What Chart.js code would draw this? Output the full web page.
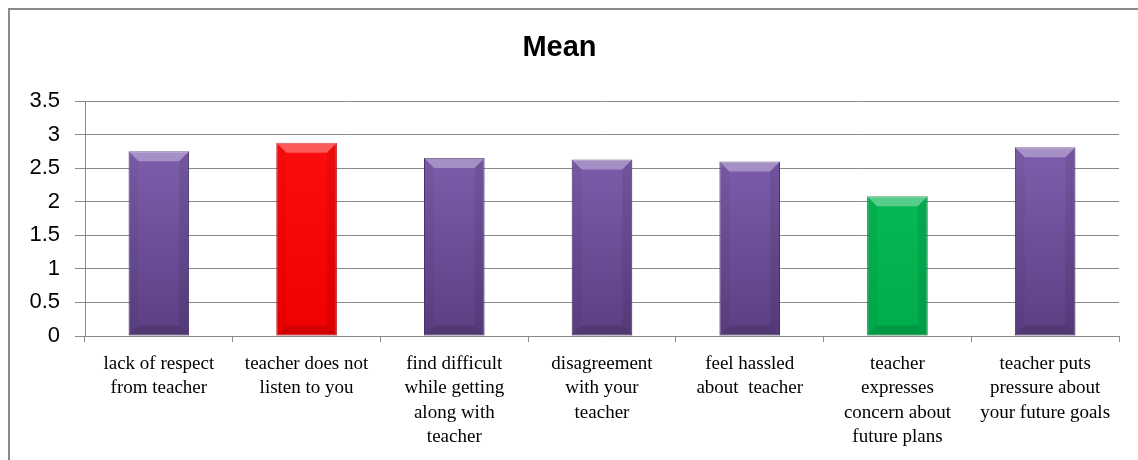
<!DOCTYPE html>
<html>
<head>
<meta charset="utf-8">
<script src="https://cdn.jsdelivr.net/npm/chart.js@4"></script>
<style>
html,body{margin:0;padding:0;background:#fff;}
#wrap{position:relative;width:1138px;height:460px;}
</style>
</head>
<body>
<div id="wrap"><canvas id="c" width="1138" height="460"></canvas></div>
<script>
// ---- data ----
const categories = [
  ["lack of respect", "from teacher"],
  ["teacher does not", "listen to you"],
  ["find difficult", "while getting", "along with", "teacher"],
  ["disagreement", "with your", "teacher"],
  ["feel hassled", "about  teacher"],
  ["teacher", "expresses", "concern about", "future plans"],
  ["teacher puts", "pressure about", "your future goals"]
];
const meanValues = [2.75, 2.88, 2.65, 2.63, 2.60, 2.08, 2.81];
const yTicks = [0, 0.5, 1, 1.5, 2, 2.5, 3, 3.5];
const chartTitle = "Mean";

// ---- styles (separate from data) ----
const barTop    = ["#8666b8", "#ff1010", "#8666b8", "#8666b8", "#8666b8", "#0cbd5a", "#8666b8"];
const barBottom = ["#5b3f82", "#f00000", "#5b3f82", "#5b3f82", "#5b3f82", "#00ad4c", "#5b3f82"];
const barEdge   = ["#4a336c", "#c00000", "#4a336c", "#4a336c", "#4a336c", "#00843a", "#4a336c"];

const frame = {
  id: 'frame',
  beforeDraw(chart){
    const ctx = chart.ctx;
    ctx.save();
    ctx.fillStyle = '#ffffff';
    ctx.fillRect(0,0,chart.width,chart.height);
    ctx.strokeStyle = '#8a8a8a';
    ctx.lineWidth = 2;
    ctx.beginPath();
    ctx.moveTo(9, chart.height);
    ctx.lineTo(9, 9);
    ctx.lineTo(chart.width, 9);
    ctx.stroke();
    ctx.restore();
  }
};

const bevel = {
  id: 'bevel',
  afterDatasetsDraw(chart){
    const ctx = chart.ctx;
    const meta = chart.getDatasetMeta(0);
    ctx.save();
    meta.data.forEach((bar)=>{
      const p = bar.getProps(['x','y','base','width'], true);
      const l = p.x - p.width/2, r = p.x + p.width/2, t = p.y, b = p.base;
      const bv = Math.min(10, p.width*0.17);
      // top highlight
      ctx.fillStyle = 'rgba(255,255,255,0.32)';
      ctx.beginPath();
      ctx.moveTo(l, t); ctx.lineTo(r, t); ctx.lineTo(r-bv, t+bv); ctx.lineTo(l+bv, t+bv); ctx.closePath(); ctx.fill();
      // left side
      ctx.fillStyle = 'rgba(0,0,0,0.04)';
      ctx.beginPath();
      ctx.moveTo(l, t); ctx.lineTo(l+bv, t+bv); ctx.lineTo(l+bv, b-bv); ctx.lineTo(l, b); ctx.closePath(); ctx.fill();
      // right side
      ctx.fillStyle = 'rgba(0,0,0,0.08)';
      ctx.beginPath();
      ctx.moveTo(r, t); ctx.lineTo(r-bv, t+bv); ctx.lineTo(r-bv, b-bv); ctx.lineTo(r, b); ctx.closePath(); ctx.fill();
      // bottom
      ctx.fillStyle = 'rgba(0,0,0,0.12)';
      ctx.beginPath();
      ctx.moveTo(l, b); ctx.lineTo(l+bv, b-bv); ctx.lineTo(r-bv, b-bv); ctx.lineTo(r, b); ctx.closePath(); ctx.fill();
    });
    ctx.restore();
  }
};

new Chart(document.getElementById('c'), {
  type: 'bar',
  data: {
    labels: categories,
    datasets: [{
      data: meanValues,
      backgroundColor(context){
        const chart = context.chart;
        const area = chart.chartArea;
        const i = context.dataIndex;
        if (!area) return barTop[i];
        const g = chart.ctx.createLinearGradient(0, area.top, 0, area.bottom);
        g.addColorStop(0, barTop[i]);
        g.addColorStop(1, barBottom[i]);
        return g;
      },
      borderColor: barEdge,
      borderWidth: 1,
      borderSkipped: false,
      categoryPercentage: 1,
      barPercentage: 0.41
    }]
  },
  options: {
    responsive: false,
    animation: false,
    events: [],
    layout: { padding: { left: 0, right: 19, top: 0, bottom: 0 } },
    plugins: {
      legend: { display: false },
      tooltip: { enabled: false },
      title: {
        display: true,
        text: chartTitle,
        color: '#000000',
        font: { family: 'Liberation Sans', size: 29, weight: 'bold', lineHeight: 1.2 },
        padding: { top: 31, bottom: 35.2 }
      }
    },
    scales: {
      x: {
        grid: { display: true, drawOnChartArea: false, drawTicks: true, tickLength: 6, color: '#8a8a8a', offset: true },
        border: { display: true, color: '#8a8a8a', width: 1 },
        ticks: {
          color: '#000000',
          font: { family: 'Liberation Serif', size: 19, lineHeight: 1.28 },
          maxRotation: 0, minRotation: 0, autoSkip: false, padding: 10
        },
        afterFit(scale){ scale.height = 124; }
      },
      y: {
        min: 0, max: 3.5,
        afterBuildTicks(scale){ scale.ticks = yTicks.map(v => ({ value: v })); },
        grid: { color: '#8a8a8a', lineWidth: 1, tickLength: 10, drawTicks: true },
        border: { display: true, color: '#8a8a8a', width: 1 },
        ticks: {
          color: '#000000',
          font: { family: 'Liberation Sans', size: 22 },
          padding: 15,
          callback(v){ return String(v); }
        },
        afterFit(scale){ scale.width = 85; }
      }
    }
  },
  plugins: [frame, bevel]
});
</script>
</body>
</html>
